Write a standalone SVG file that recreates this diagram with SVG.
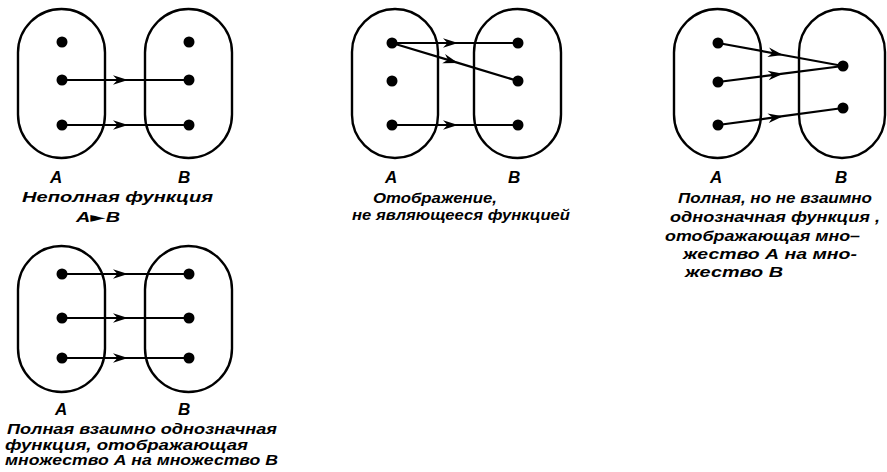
<svg xmlns="http://www.w3.org/2000/svg" width="887" height="472" viewBox="0 0 887 472">
<style>
.oval{fill:none;stroke:#000;stroke-width:2.4}
.dot{fill:#000}
.arr{fill:none;stroke:#000;stroke-width:2.2;marker-mid:url(#ah)}
.lbl{font-family:"Liberation Sans",Arial,sans-serif;font-style:italic;font-weight:bold;font-size:17px;fill:#000}
.cap{font-family:"Liberation Sans",Arial,sans-serif;font-style:italic;font-weight:bold;font-size:14px;fill:#000}
</style>
<defs>
<marker id="ah" markerUnits="userSpaceOnUse" markerWidth="16" markerHeight="12" refX="15" refY="6" orient="auto" overflow="visible">
<path d="M0,1.2 L15,6 L0,10.8 L4.5,6 z" fill="#000"/>
</marker>
</defs>
<rect width="887" height="472" fill="#fff"/>

<g id="d1">
<g id="d1-A"><rect class="oval" x="18" y="9" width="87" height="149" rx="43.5"/>
<circle class="dot" cx="62" cy="42" r="5.5"/><circle class="dot" cx="62" cy="80" r="5.5"/><circle class="dot" cx="62" cy="125" r="5.5"/>
<text class="lbl" x="50" y="183">A</text></g>
<g id="d1-B"><rect class="oval" x="145" y="9" width="87" height="149" rx="43.5"/>
<circle class="dot" cx="189" cy="42" r="5.5"/><circle class="dot" cx="189" cy="80" r="5.5"/><circle class="dot" cx="189" cy="125" r="5.5"/>
<text class="lbl" x="178" y="183">B</text></g>
<text class="cap" x="22" y="202" textLength="191" lengthAdjust="spacingAndGlyphs">Неполная  функция</text>
<text class="cap" x="76" y="222" textLength="44" lengthAdjust="spacingAndGlyphs">A<tspan font-family="DejaVu Sans" font-style="normal">►</tspan>B</text>
</g>

<g id="d2">
<g id="d2-A"><rect class="oval" x="352" y="9" width="86" height="149" rx="43"/>
<circle class="dot" cx="392" cy="43" r="5.5"/><circle class="dot" cx="392" cy="81" r="5.5"/><circle class="dot" cx="392" cy="125" r="5.5"/>
<text class="lbl" x="385" y="183">A</text></g>
<g id="d2-B"><rect class="oval" x="474" y="9" width="87" height="149" rx="43.5"/>
<circle class="dot" cx="518" cy="43" r="5.5"/><circle class="dot" cx="518" cy="81" r="5.5"/><circle class="dot" cx="518" cy="125" r="5.5"/>
<text class="lbl" x="508" y="183">B</text></g>
<text class="cap" x="373" y="203" textLength="124" lengthAdjust="spacingAndGlyphs">Отображение,</text>
<text class="cap" x="352" y="220" textLength="218" lengthAdjust="spacingAndGlyphs">не являющееся функцией</text>
</g>

<g id="d3">
<g id="d3-A"><rect class="oval" x="674" y="9" width="87" height="149" rx="43.5"/>
<circle class="dot" cx="718" cy="43" r="5.5"/><circle class="dot" cx="718" cy="82" r="5.5"/><circle class="dot" cx="718" cy="125" r="5.5"/>
<text class="lbl" x="710" y="183">A</text></g>
<g id="d3-B"><rect class="oval" x="799" y="9" width="86" height="149" rx="43"/>
<circle class="dot" cx="843" cy="66" r="5.5"/><circle class="dot" cx="843" cy="108" r="5.5"/>
<text class="lbl" x="835" y="183">B</text></g>
<text class="cap" x="678" y="203" textLength="194" lengthAdjust="spacingAndGlyphs">Полная, но не взаимно</text>
<text class="cap" x="670" y="222" textLength="210" lengthAdjust="spacingAndGlyphs">однозначная  функция ,</text>
<text class="cap" x="665" y="241" textLength="195" lengthAdjust="spacingAndGlyphs">отображающая мно–</text>
<text class="cap" x="683" y="259" textLength="174" lengthAdjust="spacingAndGlyphs">жество А  на  мно-</text>
<text class="cap" x="685" y="277" textLength="98" lengthAdjust="spacingAndGlyphs">жество  В</text>
</g>

<g id="d4">
<g id="d4-A"><rect class="oval" x="18" y="246" width="87" height="146" rx="43.5"/>
<circle class="dot" cx="62" cy="274" r="5.5"/><circle class="dot" cx="62" cy="318" r="5.5"/><circle class="dot" cx="62" cy="358" r="5.5"/>
<text class="lbl" x="55" y="415">A</text></g>
<g id="d4-B"><rect class="oval" x="145" y="246" width="87" height="146" rx="43.5"/>
<circle class="dot" cx="189" cy="274" r="5.5"/><circle class="dot" cx="189" cy="318" r="5.5"/><circle class="dot" cx="189" cy="358" r="5.5"/>
<text class="lbl" x="178" y="415">B</text></g>
<text class="cap" x="7" y="434" textLength="270" lengthAdjust="spacingAndGlyphs">Полная  взаимно однозначная</text>
<text class="cap" x="5" y="450" textLength="243" lengthAdjust="spacingAndGlyphs">функция, отображающая</text>
<text class="cap" x="5" y="465" textLength="273" lengthAdjust="spacingAndGlyphs">множество А на множество В</text>
</g>

<g id="connectors">
<path class="arr" d="M62,80 L128,80 L189,80"/>
<path class="arr" d="M62,125 L128,125 L189,125"/>
<path class="arr" d="M392,43 L458,43 L518,43"/>
<path class="arr" d="M392,43 L458,62.9 L518,81"/>
<path class="arr" d="M392,125 L458,125 L518,125"/>
<path class="arr" d="M718,43 L783,55 L843,66"/>
<path class="arr" d="M718,82 L783,73.7 L843,66"/>
<path class="arr" d="M718,125 L783,116.2 L843,108"/>
<path class="arr" d="M62,274 L128,274 L189,274"/>
<path class="arr" d="M62,318 L128,318 L189,318"/>
<path class="arr" d="M62,358 L128,358 L189,358"/>
</g>
</svg>
